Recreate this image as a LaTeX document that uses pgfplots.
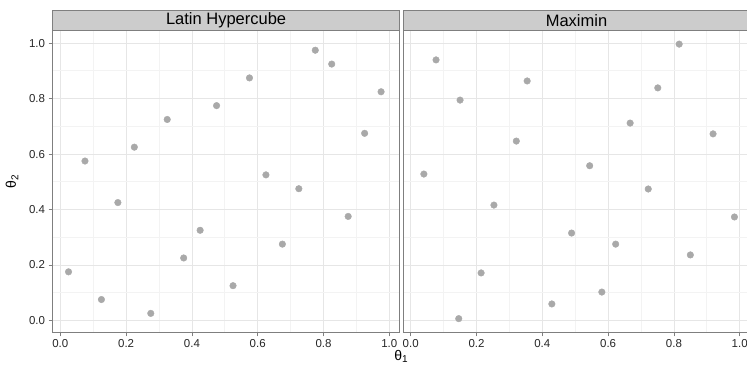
\documentclass[border=0pt]{standalone}
\usepackage{fontspec}
\setmainfont{Liberation Sans}
\usepackage{pgfplots}
\pgfplotsset{compat=1.18}
\definecolor{ptgrey}{HTML}{A9A9A9}
\definecolor{grey50}{HTML}{7F7F7F}
\definecolor{grey80}{HTML}{CCCCCC}
\definecolor{gridmaj}{HTML}{E6E6E6}
\definecolor{gridmin}{HTML}{F3F3F3}
\pgfplotsset{
  panel/.style={
    scale only axis, width=347bp, height=301.3bp,
    xmin=-0.0234, xmax=1.0313, ymin=-0.0433, ymax=1.0444,
    xtick={0,0.2,0.4,0.6,0.8,1}, xticklabels={0.0,0.2,0.4,0.6,0.8,1.0},
    ytick={0,0.2,0.4,0.6,0.8,1}, yticklabels={0.0,0.2,0.4,0.6,0.8,1.0},
    minor xtick={0.1,0.3,0.5,0.7,0.9}, minor ytick={0.1,0.3,0.5,0.7,0.9},
    grid=both,
    major grid style={gridmaj, line width=0.8bp},
    minor grid style={gridmin, line width=1bp},
    tick align=outside, tick pos=left,
    major tick length=4bp, minor tick length=0pt,
    tick style={grey50, line width=0.8bp},
    axis line style={grey50, line width=1bp},
    ticklabel style={font=\fontsize{11.5bp}{13bp}\selectfont, text=black!85},
    every axis title shift=0pt,
    title style={at={(0.5,1)}, anchor=south, yshift=0pt, fill=grey80, draw=grey50,
      line width=0.8bp, minimum width=347bp, minimum height=20.5bp, inner sep=0pt,
      font=\fontsize{16.5bp}{18bp}\selectfont},
  },
  pts/.style={only marks, mark=*, mark size=3.3bp, color=ptgrey, mark options={draw=none, fill=ptgrey}},
}
\pgfplotstableread{
x y
0.025 0.175
0.075 0.575
0.125 0.075
0.175 0.425
0.225 0.625
0.275 0.025
0.325 0.725
0.375 0.225
0.425 0.325
0.475 0.775
0.525 0.125
0.575 0.875
0.625 0.525
0.675 0.275
0.725 0.475
0.775 0.975
0.825 0.925
0.875 0.375
0.925 0.675
0.975 0.825
}\lhs
\pgfplotstableread{
x y
0.354 0.864
0.816 0.997
0.751 0.839
0.321 0.647
0.667 0.712
0.919 0.673
0.544 0.558
0.077 0.940
0.150 0.795
0.040 0.528
0.253 0.416
0.722 0.474
0.984 0.373
0.489 0.315
0.623 0.275
0.850 0.236
0.581 0.102
0.429 0.059
0.214 0.171
0.146 0.006
}\maximin
\begin{document}
\begin{tikzpicture}
\begin{axis}[panel, at={(52.6bp,32.7bp)}, anchor=south west, title={Latin Hypercube}]
\addplot[pts] table[x=x,y=y] {\lhs};
\end{axis}
\begin{axis}[panel, at={(403.0bp,32.7bp)}, anchor=south west, title={Maximin},
  yticklabels={}, ytick style={draw=none}]
\addplot[pts] table[x=x,y=y] {\maximin};
\end{axis}
\node[font=\fontsize{14bp}{16bp}\selectfont, anchor=north, inner sep=0pt] at (401bp,15bp) {θ\raisebox{-0.35ex}{\fontsize{10bp}{11bp}\selectfont 1}};
\node[font=\fontsize{14bp}{16bp}\selectfont, rotate=90] at (12bp,183.4bp) {θ\raisebox{-0.35ex}{\fontsize{10bp}{11bp}\selectfont 2}};
\pgfresetboundingbox
\path (0,0) rectangle (747bp,365bp);
\end{tikzpicture}
\end{document}
